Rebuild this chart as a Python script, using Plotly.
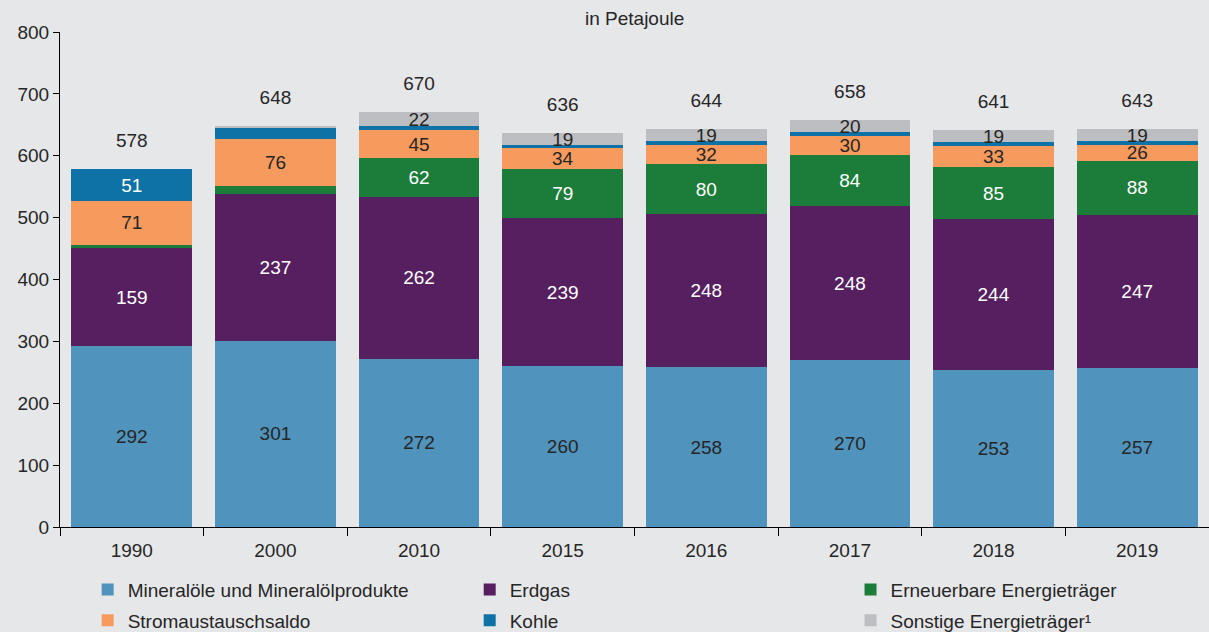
import plotly.graph_objects as go

years = ["1990", "2000", "2010", "2015", "2016", "2017", "2018", "2019"]

mineraloel = [292, 301, 272, 260, 258, 270, 253, 257]
erdgas = [159, 237, 262, 239, 248, 248, 244, 247]
erneuerbare = [5, 13, 62, 79, 80, 84, 85, 88]
strom = [71, 76, 45, 34, 32, 30, 33, 26]
kohle = [51, 18, 7, 5, 6, 6, 7, 6]
sonstige = [0, 3, 22, 19, 19, 20, 19, 19]
totals = [578, 648, 670, 636, 644, 658, 641, 643]

# small segments stay unlabelled, like in the original
MIN_LABEL = 19

BG = "#E6E7E9"
TXT = "#262626"
FONT = "Liberation Sans, Arial, sans-serif"

# name, values, colour, label colour, legend column
series = [
    ("Mineralöle und Mineralölprodukte", mineraloel, "#5093BC", TXT, "legend"),
    ("Erdgas", erdgas, "#561F60", "white", "legend2"),
    ("Erneuerbare Energieträger", erneuerbare, "#1C7D3A", "white", "legend3"),
    ("Stromaustauschsaldo", strom, "#F69A5D", TXT, "legend"),
    ("Kohle", kohle, "#0E72A6", "white", "legend2"),
    ("Sonstige Energieträger¹", sonstige, "#BDBEC1", TXT, "legend3"),
]

fig = go.Figure()
for name, vals, color, tcol, leg in series:
    labels = [str(v) if v >= MIN_LABEL else "" for v in vals]
    fig.add_trace(go.Bar(
        x=years, y=vals, name=name, legend=leg, legendgroup=name,
        marker=dict(color=color, line=dict(width=0)),
        text=labels, textposition="inside", insidetextanchor="middle",
        textangle=0, constraintext="none",
        textfont=dict(color=tcol, size=19, family=FONT),
        hoverinfo="x+y+name",
    ))

# totals above the bars (invisible marker pushes the text up)
fig.add_trace(go.Scatter(
    x=years, y=totals, mode="markers+text", text=[str(t) for t in totals],
    textposition="top center", marker=dict(size=26, opacity=0),
    textfont=dict(size=19, color=TXT, family=FONT),
    showlegend=False, hoverinfo="skip",
))

fig.add_annotation(xref="paper", yref="paper", x=0.5, y=1.0, yanchor="bottom",
                   yshift=1, text="in Petajoule", showarrow=False,
                   font=dict(size=19, color=TXT, family=FONT))


def legend_col(x):
    return dict(orientation="v", xref="container", yref="container",
                x=x, xanchor="left", y=0.097, yanchor="top",
                tracegroupgap=3, traceorder="grouped",
                font=dict(size=19, color=TXT, family=FONT),
                bgcolor="rgba(0,0,0,0)", itemclick=False)


fig.update_layout(
    width=1209, height=632,
    barmode="stack", bargap=0.16,
    paper_bgcolor=BG, plot_bgcolor=BG,
    font=dict(family=FONT, color=TXT, size=19),
    margin=dict(l=60, r=0, t=32, b=105, autoexpand=False),
    uniformtext=dict(minsize=19, mode="show"),
    showlegend=True,
    legend=legend_col(0.0725),
    legend2=legend_col(0.3885),
    legend3=legend_col(0.7035),
    xaxis=dict(type="category", range=[-0.5, len(years) - 0.5],
               showline=True, linecolor="#000", linewidth=1,
               ticks="outside", tickson="boundaries", ticklen=8, tickcolor="#000",
               ticklabelstandoff=6,
               showgrid=False, tickfont=dict(size=19)),
    yaxis=dict(range=[0, 800], dtick=100, showline=True, linecolor="#000",
               linewidth=1, ticks="outside", ticklen=6, tickcolor="#000",
               showgrid=False, zeroline=False, tickfont=dict(size=19)),
)

fig.write_html("out.html", config={"displayModeBar": False},
               post_script="document.body.style.margin='0';")
